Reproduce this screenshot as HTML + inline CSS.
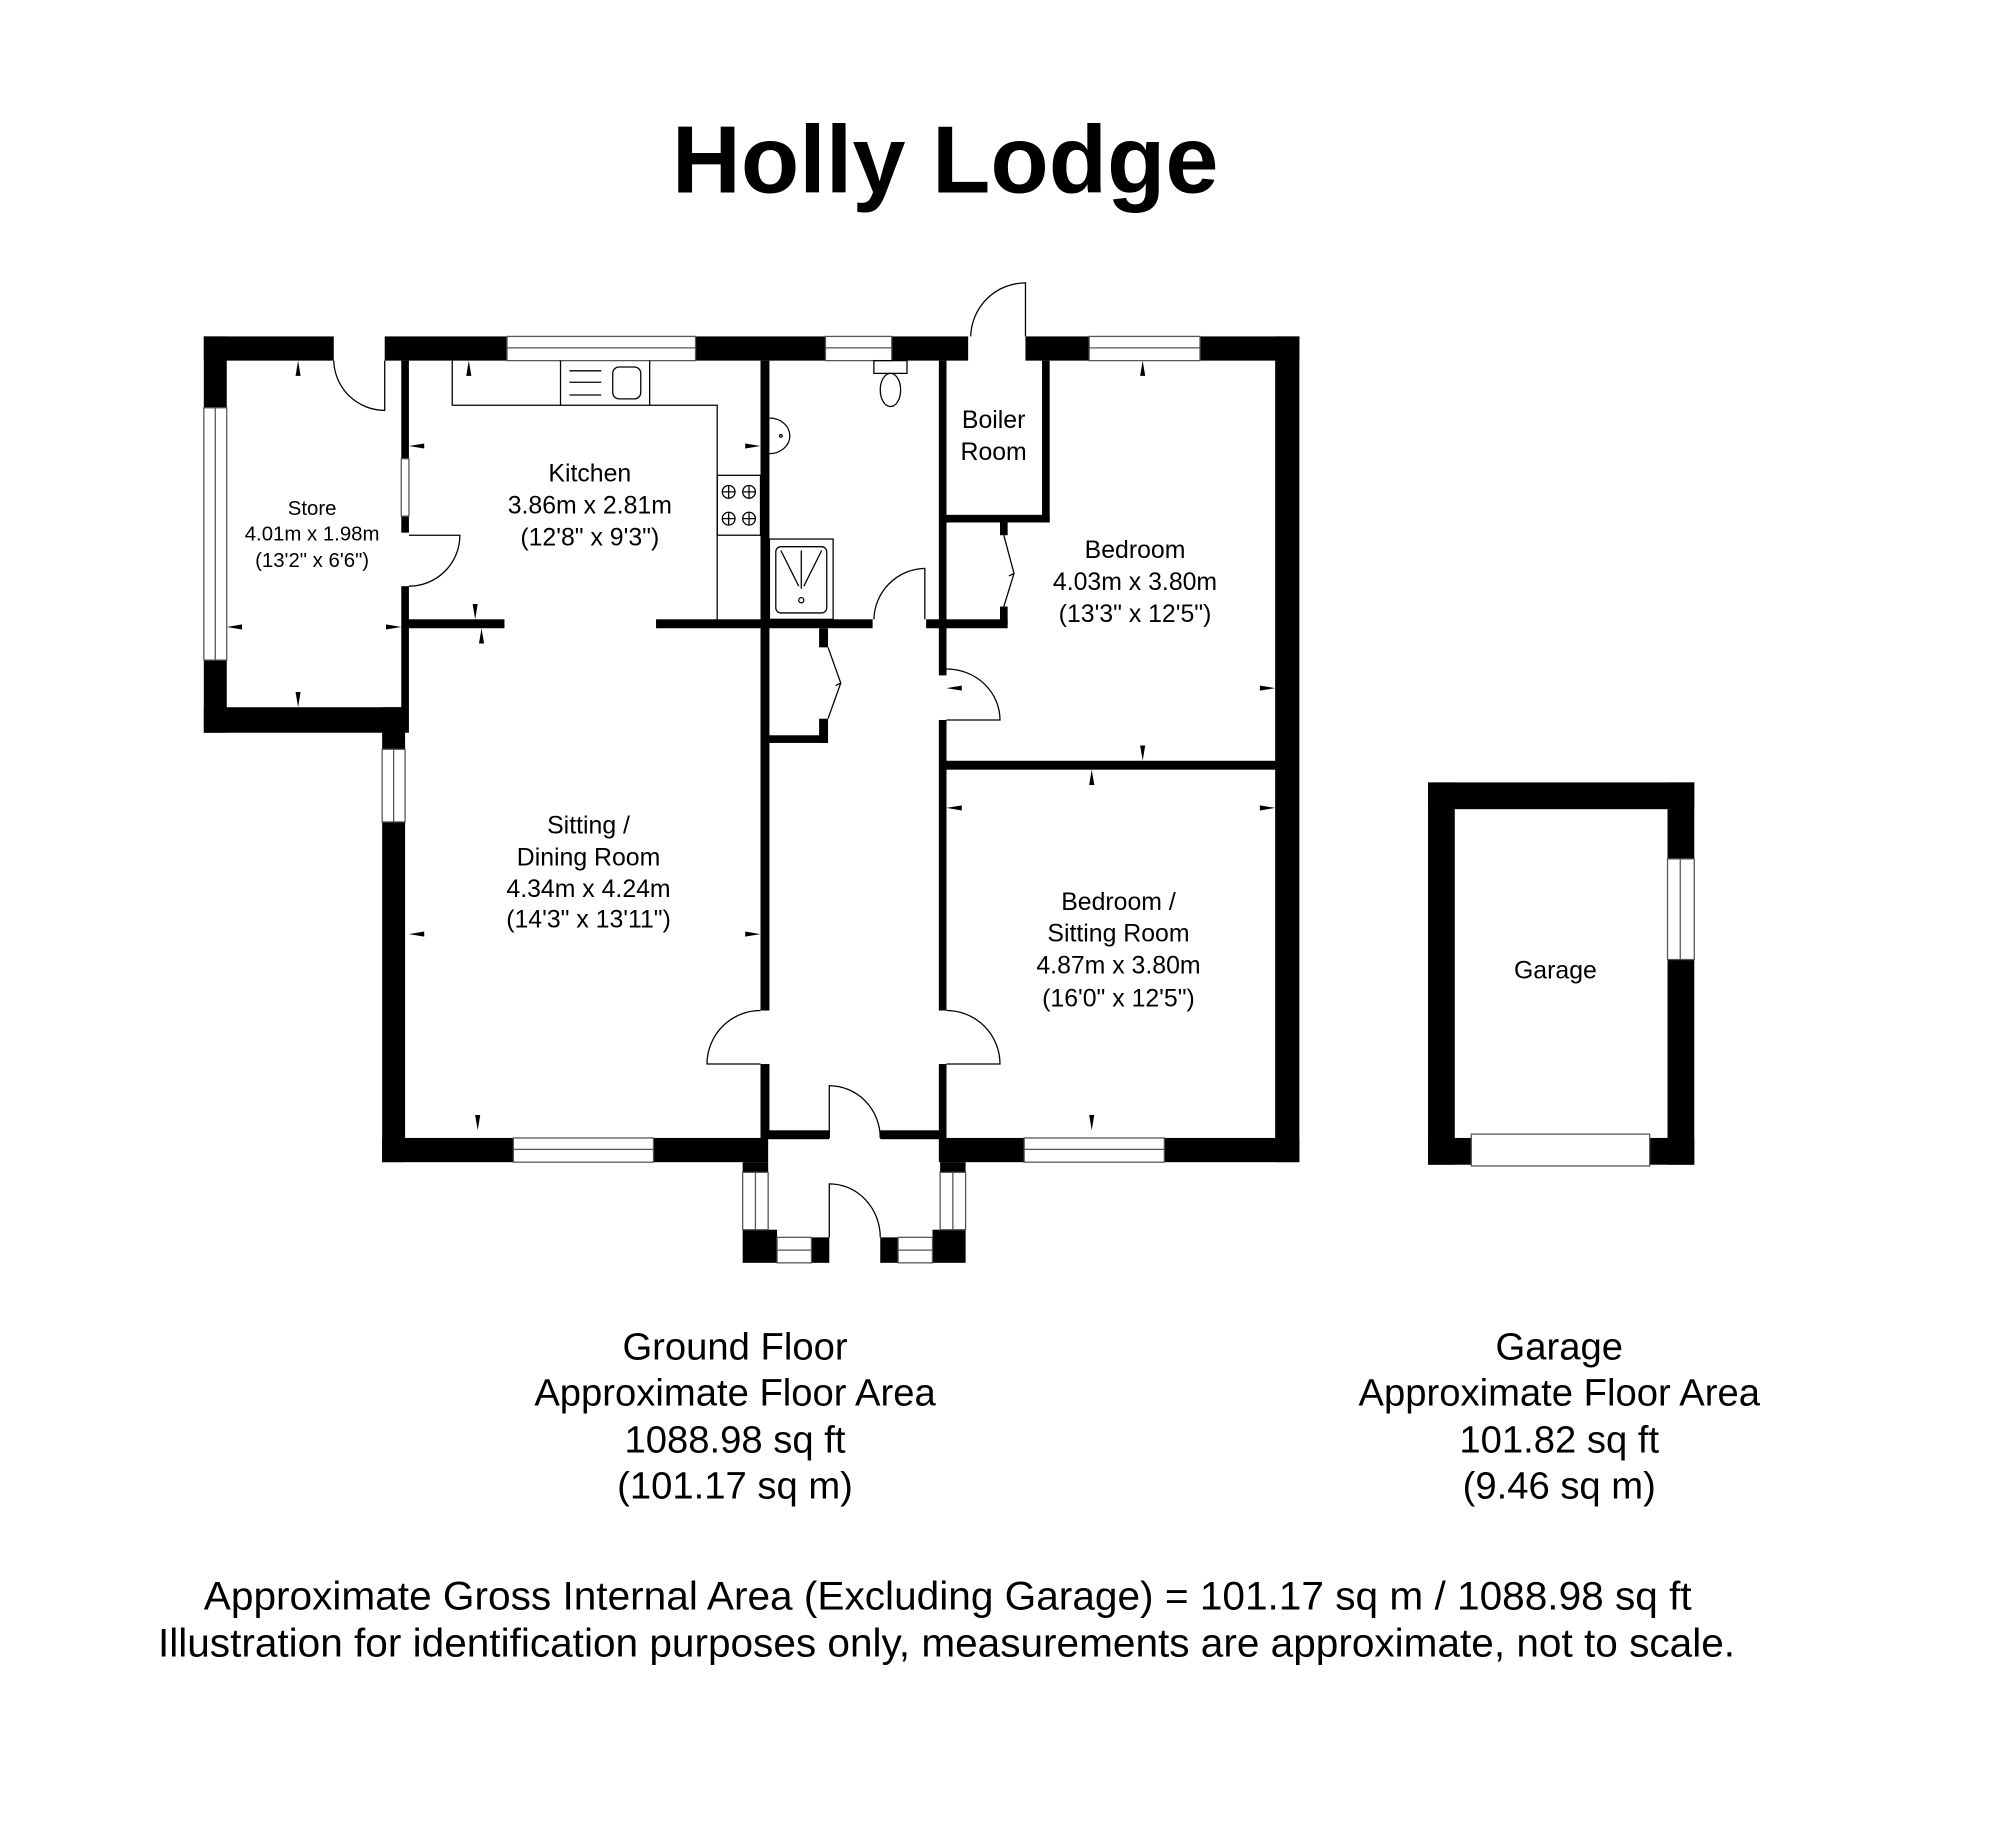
<!DOCTYPE html>
<html><head><meta charset="utf-8"><style>
html,body{margin:0;padding:0;background:#fff;}
svg{display:block;}
text{font-family:"Liberation Sans",Arial,sans-serif;fill:#000;}
</style></head><body>
<svg width="2000" height="1835" viewBox="0 0 1570 1440" preserveAspectRatio="none" xmlns="http://www.w3.org/2000/svg">
<rect width="1570" height="1440" fill="#fff"/>
<text x="742" y="151" font-size="75" font-weight="bold" text-anchor="middle">Holly Lodge</text>

<g fill="#000">
<rect x="160" y="264" width="102" height="19"/>
<rect x="302" y="264" width="96" height="19"/>
<rect x="546" y="264" width="102" height="19"/>
<rect x="700" y="264" width="60" height="19"/>
<rect x="805" y="264" width="50" height="19"/>
<rect x="942" y="264" width="78" height="19"/>
<rect x="160" y="264" width="18" height="56"/>
<rect x="160" y="518" width="18" height="57"/>
<rect x="160" y="555" width="158" height="20"/>
<rect x="300" y="555" width="18" height="33"/>
<rect x="300" y="645" width="18" height="267"/>
<rect x="1001" y="264" width="19" height="648"/>
<rect x="300" y="893" width="103" height="19"/>
<rect x="513" y="893" width="90" height="19"/>
<rect x="737" y="893" width="67" height="19"/>
<rect x="914" y="893" width="106" height="19"/>
<rect x="597" y="887" width="54" height="7"/>
<rect x="691" y="887" width="50" height="7"/>
<rect x="583" y="912" width="20" height="8"/>
<rect x="583" y="965" width="27" height="26"/>
<rect x="637" y="971" width="14" height="20"/>
<rect x="691" y="971" width="14" height="20"/>
<rect x="732" y="965" width="26" height="26"/>
<rect x="738" y="912" width="20" height="8"/>
<rect x="315" y="283" width="6" height="77"/>
<rect x="315" y="405" width="6" height="13"/>
<rect x="315" y="460" width="6" height="115"/>
<rect x="318" y="486" width="78" height="7"/>
<rect x="515" y="486" width="170" height="7"/>
<rect x="727" y="486" width="64" height="7"/>
<rect x="597" y="283" width="7" height="510"/>
<rect x="597" y="835" width="7" height="58"/>
<rect x="737" y="283" width="6" height="247"/>
<rect x="737" y="565" width="6" height="228"/>
<rect x="737" y="835" width="6" height="58"/>
<rect x="818" y="283" width="6" height="127"/>
<rect x="740" y="404" width="84" height="6"/>
<rect x="785" y="410" width="6" height="10"/>
<rect x="785" y="476" width="6" height="14"/>
<rect x="643" y="493" width="7" height="15"/>
<rect x="643" y="564" width="7" height="19"/>
<rect x="600" y="577" width="50" height="6"/>
<rect x="740" y="597" width="263" height="7"/>
<rect x="1121" y="614" width="209" height="21"/>
<rect x="1121" y="614" width="21" height="300"/>
<rect x="1309" y="614" width="21" height="60"/>
<rect x="1309" y="753" width="21" height="161"/>
<rect x="1121" y="893" width="209" height="21"/>
</g>

<g fill="#fff" stroke="#555" stroke-width="1">
<rect x="398" y="264" width="148" height="19"/><line x1="398" y1="273" x2="546" y2="273"/>
<rect x="648" y="264" width="52" height="19"/><line x1="648" y1="273" x2="700" y2="273"/>
<rect x="855" y="264" width="87" height="19"/><line x1="855" y1="273" x2="942" y2="273"/>
<rect x="160" y="320" width="18" height="198"/><line x1="169" y1="320" x2="169" y2="518"/>
<rect x="300" y="588" width="18" height="57"/><line x1="309" y1="588" x2="309" y2="645"/>
<rect x="403" y="893" width="110" height="19"/><line x1="403" y1="902" x2="513" y2="902"/>
<rect x="804" y="893" width="110" height="19"/><line x1="804" y1="902" x2="914" y2="902"/>
<rect x="315" y="360" width="6" height="45"/>
<rect x="583" y="920" width="20" height="45"/><line x1="593" y1="920" x2="593" y2="965"/>
<rect x="738" y="920" width="20" height="45"/><line x1="748" y1="920" x2="748" y2="965"/>
<rect x="610" y="971" width="27" height="20"/><line x1="610" y1="981" x2="637" y2="981"/>
<rect x="705" y="971" width="27" height="20"/><line x1="705" y1="981" x2="732" y2="981"/>
<rect x="1309" y="674" width="21" height="79"/><line x1="1319" y1="674" x2="1319" y2="753"/>
<rect x="1155" y="890" width="140" height="25"/>
</g>

<g fill="none" stroke="#000" stroke-width="1">
<path d="M302 283 V322 A40 40 0 0 1 262 283"/>
<path d="M805 264 V222 A43 43 0 0 0 762 264"/>
<path d="M321 420 H361 A40 40 0 0 1 321 460"/>
<path d="M726 486 V446 A41 41 0 0 0 686 486"/>
<path d="M743 565 H785 A42 40 0 0 0 743 525"/>
<path d="M597 793 A42 42 0 0 0 555 835 H597"/>
<path d="M743 793 A42 42 0 0 1 785 835 H743"/>
<path d="M651 893 V852 A40 41 0 0 1 691 893"/>
<path d="M651 971 V929 A40 42 0 0 1 691 971"/>
<path d="M788 420 L796 450 L792 452 M796 450 L788 476"/>
<path d="M650 508 L660 536 L656 538 M660 536 L650 564"/>
<path d="M355 283 V318 H563 V486"/>
<line x1="440" y1="283" x2="440" y2="318"/><line x1="510" y1="283" x2="510" y2="318"/>
<rect x="481" y="288" width="22" height="25" rx="5"/>
<line x1="447" y1="291" x2="472" y2="291"/><line x1="447" y1="300" x2="472" y2="300"/><line x1="447" y1="310" x2="472" y2="310"/>
<rect x="563" y="373" width="34" height="47"/>
<circle cx="572" cy="386" r="5"/><circle cx="588" cy="386" r="5"/>
<circle cx="572" cy="407" r="5"/><circle cx="588" cy="407" r="5"/>
<path d="M567 386h10M572 381v10M583 386h10M588 381v10M567 407h10M572 402v10M583 407h10M588 402v10"/>
<rect x="686" y="283" width="26" height="10"/>
<ellipse cx="699" cy="306" rx="8" ry="13"/>
<path d="M604 328 A16 14 0 0 1 604 356"/>
<circle cx="613" cy="342" r="1"/>
<rect x="604" y="423" width="50" height="63"/>
<rect x="609" y="429" width="40" height="52" rx="4"/>
<path d="M613 432 L627 460 M629 432 V462 M645 432 L631 460"/>
<circle cx="629" cy="471" r="2"/>
</g>

<g fill="#000">
<path d="M234 283 l-2 12 h4z"/><path d="M234 555 l-2 -12 h4z"/>
<path d="M178 492 l12 -2 v4z"/><path d="M315 492 l-12 -2 v4z"/>
<path d="M368 283 l-2 12 h4z"/><path d="M321 350 l12 -2 v4z"/><path d="M597 350 l-12 -2 v4z"/>
<path d="M373 486 l-2 -12 h4z"/><path d="M378 493 l-2 12 h4z"/>
<path d="M321 733 l12 -2 v4z"/><path d="M597 733 l-12 -2 v4z"/>
<path d="M375 887 l-2 -12 h4z"/>
<path d="M897 283 l-2 12 h4z"/><path d="M897 597 l-2 -12 h4z"/>
<path d="M743 540 l12 -2 v4z"/><path d="M1001 540 l-12 -2 v4z"/>
<path d="M857 604 l-2 12 h4z"/><path d="M857 887 l-2 -12 h4z"/>
<path d="M743 634 l12 -2 v4z"/><path d="M1001 634 l-12 -2 v4z"/>
</g>

<g text-anchor="middle">
<text x="245" y="404" font-size="16">Store</text>
<text x="245" y="424" font-size="16">4.01m x 1.98m</text>
<text x="245" y="445" font-size="16">(13'2" x 6'6")</text>
<text x="463" y="378" font-size="19.5">Kitchen</text>
<text x="463" y="403" font-size="19.5">3.86m x 2.81m</text>
<text x="463" y="428" font-size="19.5">(12'8" x 9'3")</text>
<text x="780" y="336" font-size="19.5">Boiler</text>
<text x="780" y="361" font-size="19.5">Room</text>
<text x="891" y="438" font-size="19.5">Bedroom</text>
<text x="891" y="463" font-size="19.5">4.03m x 3.80m</text>
<text x="891" y="488" font-size="19.5">(13'3" x 12'5")</text>
<text x="462" y="654" font-size="19.5">Sitting /</text>
<text x="462" y="679" font-size="19.5">Dining Room</text>
<text x="462" y="704" font-size="19.5">4.34m x 4.24m</text>
<text x="462" y="728" font-size="19.5">(14'3" x 13'11")</text>
<text x="878" y="714" font-size="19.5">Bedroom /</text>
<text x="878" y="739" font-size="19.5">Sitting Room</text>
<text x="878" y="764" font-size="19.5">4.87m x 3.80m</text>
<text x="878" y="790" font-size="19.5">(16'0" x 12'5")</text>
<text x="1221" y="768" font-size="19.5">Garage</text>
<g font-size="30">
<text x="577" y="1067">Ground Floor</text>
<text x="577" y="1103">Approximate Floor Area</text>
<text x="577" y="1140">1088.98 sq ft</text>
<text x="577" y="1176">(101.17 sq m)</text>
<text x="1224" y="1067">Garage</text>
<text x="1224" y="1103">Approximate Floor Area</text>
<text x="1224" y="1140">101.82 sq ft</text>
<text x="1224" y="1176">(9.46 sq m)</text>
</g>
<g font-size="31.5">
<text x="744" y="1263" textLength="1168" lengthAdjust="spacingAndGlyphs">Approximate Gross Internal Area (Excluding Garage) = 101.17 sq m / 1088.98 sq ft</text>
<text x="743" y="1300" textLength="1238" lengthAdjust="spacingAndGlyphs">Illustration for identification purposes only, measurements are approximate, not to scale.</text>
</g>
</g>
</svg>
</body></html>
